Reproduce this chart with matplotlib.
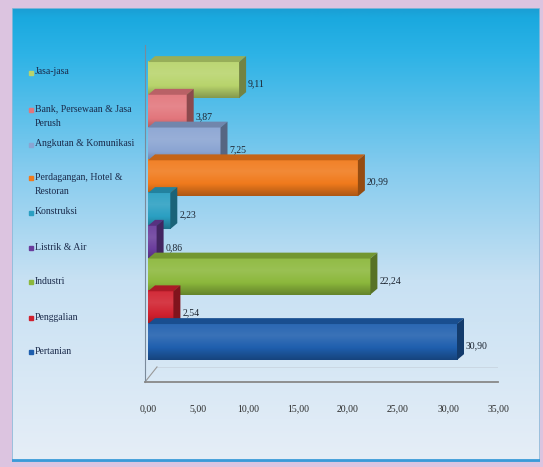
import numpy as np
import matplotlib.pyplot as plt
from matplotlib.colors import LinearSegmentedColormap, to_rgb
from matplotlib.patches import Polygon, Rectangle

# Sectors, bottom to top as they sit on the chart
sectors = ["Pertanian", "Penggalian", "Industri", "Listrik & Air", "Konstruksi",
           "Perdagangan, Hotel &\nRestoran", "Angkutan & Komunikasi",
           "Bank, Persewaan & Jasa\nPerush", "Jasa-jasa"]
shares = [30.90, 2.54, 22.24, 0.86, 2.23, 20.99, 7.25, 3.87, 9.11]
bar_colors = ["#1f5fae", "#d0202e", "#8cb83c", "#6a3c9c", "#2a9fc2",
              "#f07a1c", "#8aa4d2", "#e2767c", "#b8d46c"]
x_ticks = [0, 5, 10, 15, 20, 25, 30, 35]

W, H = 543, 467
SERIF = "Liberation Serif"


def px_box(x0, y0, x1, y1):
    # pixel box (top-left origin) -> figure fraction rect
    return [x0 / W, 1 - y1 / H, (x1 - x0) / W, (y1 - y0) / H]


def shade(c, f):
    r = np.array(to_rgb(c))
    if f > 0:
        return tuple(r + (1 - r) * f)
    return tuple(r * (1 + f))


fig = plt.figure(figsize=(W / 100, H / 100), dpi=100)
fig.patch.set_facecolor("#dcc4e0")

# background panel with a sky gradient
bg = fig.add_axes(px_box(12, 8, 540, 462))
bg.set_axis_off()
sky = LinearSegmentedColormap.from_list(
    "sky", [(0.0, "#1a9fd4"), (0.02, "#1aa9df"), (0.1, "#2db3e6"), (0.35, "#84cbee"),
            (0.6, "#c8e1f3"), (1.0, "#e6eef7")])
bg.imshow(np.linspace(0, 1, 256).reshape(-1, 1), aspect="auto", cmap=sky,
          extent=[0, 1, 0, 1], origin="upper")
bg.set_xlim(0, 1)
bg.set_ylim(0, 1)
bg.add_patch(Rectangle((0, 0), 1, 1, fill=False, ec="#8fb8d8", lw=1.2))
bg.plot([0, 1], [0.004, 0.004], color="#3a9ad8", lw=2)

# main bar axes
ax = fig.add_axes(px_box(145, 45, 498, 382))
ax.patch.set_alpha(0)
pos = np.arange(len(sectors))
bar_h = 1.1
dx, dy = 0.7, 0.18

# draw from the top row down so lower bars sit in front
for i in range(len(sectors) - 1, -1, -1):
    y, v, c = pos[i], shares[i], bar_colors[i]
    z = 10 - i
    lo, hi = y - bar_h / 2, y + bar_h / 2
    cmap = LinearSegmentedColormap.from_list(
        "b", [shade(c, -0.28), c, shade(c, 0.12), shade(c, 0.05)])
    ax.imshow(np.linspace(0, 1, 64).reshape(-1, 1), cmap=cmap, origin="lower",
              extent=[0, v, lo, hi], aspect="auto", zorder=z, interpolation="bilinear")
    # top face
    ax.add_patch(Polygon([(0, hi), (v, hi), (v + dx, hi + dy), (dx, hi + dy)],
                         closed=True, fc=shade(c, -0.18), ec="none", zorder=z))
    # right side face
    ax.add_patch(Polygon([(v, lo), (v + dx, lo + dy), (v + dx, hi + dy), (v, hi)],
                         closed=True, fc=shade(c, -0.38), ec="none", zorder=z))
    ax.text(v + dx + 0.2, y - 0.12, f"{v:.2f}".replace(".", ","),
            fontsize=7, family=SERIF, color="#1c2430",
            va="center", ha="left", zorder=20)

ax.set_xlim(-0.3, 35)
ax.set_ylim(-1.22, 9.07)
ax.set_xticks(x_ticks)
ax.set_xticklabels([f"{t:.2f}".replace(".", ",") for t in x_ticks],
                   fontsize=7, family=SERIF, color="#2a2a2a")
ax.tick_params(axis="x", length=0, pad=16)
ax.set_yticks([])
for s in ["top", "right"]:
    ax.spines[s].set_visible(False)
ax.spines["left"].set_color("#7a8a9a")
ax.spines["bottom"].set_color("#888888")
ax.spines["bottom"].set_linewidth(1.3)
# floor edge of the 3D box
ax.plot([-0.3, 0.9], [-1.22, -0.76], color="#999999", lw=0.8, clip_on=False)
ax.plot([0.9, 35], [-0.76, -0.76], color="#c8d4e0", lw=0.6, zorder=0)

# legend on the left
legend_y = [352, 318, 282, 248, 213, 178, 145, 110, 73]
for name, c, py in zip(sectors, bar_colors, legend_y):
    fig.patches.append(Rectangle((29 / W, 1 - (py + 2) / H), 4 / W, 4 / H,
                                 transform=fig.transFigure, color=c))
    fig.text(35 / W, 1 - (py - 5.5) / H, name, fontsize=7, family=SERIF,
             color="#1a2a4a", va="top", ha="left", linespacing=1.85)

fig.savefig("out.png", dpi=100)
